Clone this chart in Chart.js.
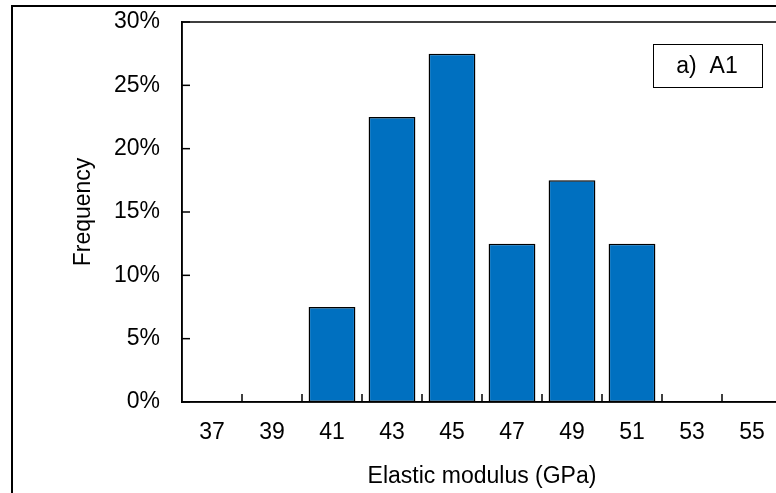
<!DOCTYPE html>
<html>
<head>
<meta charset="utf-8">
<script src="https://cdn.jsdelivr.net/npm/chart.js@4/dist/chart.umd.min.js"></script>
<style>
  html, body { margin: 0; padding: 0; background: #fff; overflow: hidden; }
  #wrap { position: absolute; left: 0; top: 0; width: 800px; height: 510px; }
</style>
</head>
<body>
<div id="wrap"><canvas id="hist" width="800" height="510"></canvas></div>
<script>
// histogram of elastic modulus, sample A1
var binLabels = ['37', '39', '41', '43', '45', '47', '49', '51', '53', '55'];
var frequency = [0, 0, 7.5, 22.5, 27.5, 12.5, 17.5, 12.5, 0, 0];
var yTicks = [0, 5, 10, 15, 20, 25, 30];
var panelLabel = 'a)  A1';

Chart.defaults.font.family = '"Liberation Sans", Arial, sans-serif';
Chart.defaults.font.size = 23;
Chart.defaults.color = '#000';

// frame, inner ticks and the label box
var decorations = {
    id: 'decorations',
    afterDraw: function(chart) {
        var ctx = chart.ctx;
        var area = chart.chartArea;
        var xs = chart.scales.x, ys = chart.scales.y;
        ctx.save();
        // outer border of the figure
        ctx.strokeStyle = '#000';
        ctx.lineWidth = 2;
        ctx.strokeRect(12, 6, 900, 900);
        // plot area border
        ctx.lineWidth = 1.5;
        ctx.strokeRect(area.left, area.top, area.right - area.left, area.bottom - area.top);
        // y ticks, pointing inward
        ctx.lineWidth = 1.5;
        yTicks.forEach(function(v) {
            var py = ys.getPixelForValue(v);
            ctx.beginPath();
            ctx.moveTo(area.left, py);
            ctx.lineTo(area.left + 8, py);
            ctx.stroke();
        });
        // x ticks between the bins
        for (var i = 1; i < binLabels.length; i++) {
            var px = (xs.getPixelForValue(i - 1) + xs.getPixelForValue(i)) / 2;
            ctx.beginPath();
            ctx.moveTo(px, area.bottom);
            ctx.lineTo(px, area.bottom - 8);
            ctx.stroke();
        }
        // panel label box
        ctx.lineWidth = 1;
        ctx.strokeRect(653.5, 44.5, 109, 43);
        ctx.font = '23px "Liberation Sans", Arial, sans-serif';
        ctx.fillStyle = '#000';
        ctx.textAlign = 'center';
        ctx.textBaseline = 'middle';
        ctx.fillText(panelLabel, 707, 67);
        ctx.restore();
    }
};

new Chart(document.getElementById('hist'), {
    type: 'bar',
    data: {
        labels: binLabels,
        datasets: [{
            data: frequency,
            backgroundColor: '#0070C0',
            borderColor: '#000',
            borderWidth: 1.5,
            borderSkipped: false,
            barPercentage: 0.78,
            categoryPercentage: 1.0
        }]
    },
    options: {
        responsive: false,
        animation: false,
        devicePixelRatio: 1,
        layout: { padding: { top: 22, right: 18, left: 0, bottom: 0 } },
        plugins: {
            legend: { display: false },
            tooltip: { enabled: false }
        },
        scales: {
            x: {
                grid: { display: false, drawTicks: false },
                border: { display: true, color: '#000', width: 1.5 },
                ticks: { padding: 17, maxRotation: 0, autoSkip: false },
                title: {
                    display: true,
                    text: 'Elastic modulus (GPa)',
                    padding: { top: 0, bottom: 20 }
                },
                afterFit: function(scale) {
                    scale.height = 108;
                    scale.paddingLeft = 0;
                    scale.paddingRight = 0;
                }
            },
            y: {
                min: 0,
                max: 30,
                grid: { display: false, drawTicks: false },
                border: { display: true, color: '#000', width: 1.5 },
                ticks: {
                    stepSize: 5,
                    padding: 22,
                    callback: function(v) { return v + '%'; }
                },
                title: {
                    display: true,
                    text: 'Frequency',
                    padding: { top: 70, bottom: 0 }
                },
                afterFit: function(scale) {
                    scale.width = 182;
                    scale.paddingTop = 0;
                    scale.paddingBottom = 0;
                }
            }
        }
    },
    plugins: [decorations]
});
</script>
</body>
</html>
